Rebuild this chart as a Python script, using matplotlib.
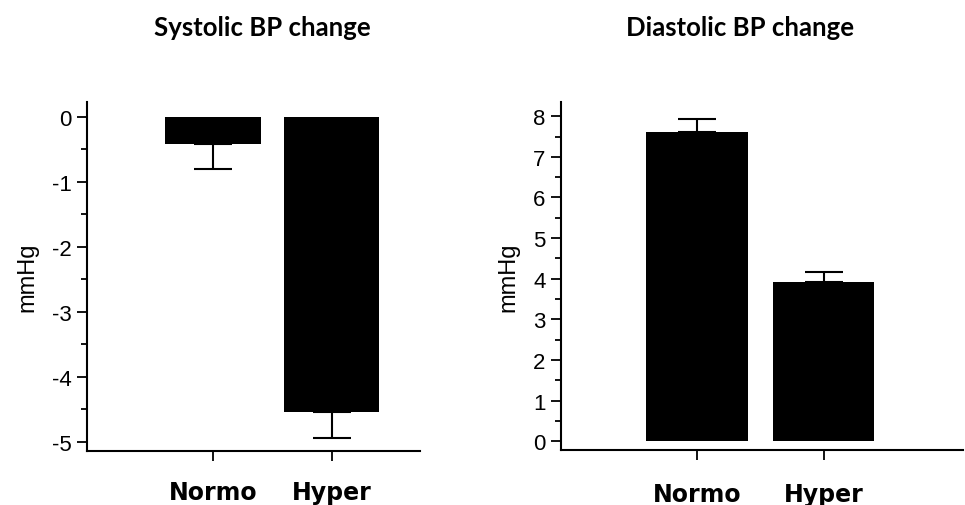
import matplotlib
matplotlib.use("Agg")
import matplotlib.pyplot as plt
from matplotlib.ticker import MultipleLocator

groups = ["Normo", "Hyper"]
systolic = [-0.42, -4.54]
systolic_err = [0.38, 0.40]
diastolic = [7.61, 3.92]
diastolic_err = [0.33, 0.24]

plt.rcParams.update({"font.family": ["Liberation Sans", "DejaVu Sans"],
                     "axes.unicode_minus": False})

fig = plt.figure(figsize=(9.65, 5.06), dpi=100)
ax1 = fig.add_axes([0.0902, 0.1067, 0.3448, 0.6897])
ax2 = fig.add_axes([0.5813, 0.1093, 0.4167, 0.6871])


def style(ax, pad):
    ax.spines[["top", "right"]].set_visible(False)
    for s in ("left", "bottom"):
        ax.spines[s].set_linewidth(1.5)
    ax.tick_params(axis="y", which="major", direction="out", length=7,
                   width=1.3, labelsize=16, pad=4)
    ax.tick_params(axis="y", which="minor", direction="out", length=4, width=1.3)
    ax.tick_params(axis="x", direction="out", length=7, width=1.3, pad=pad)
    ax.set_xticks(range(len(groups)))
    ax.set_xticklabels(groups, fontsize=17, fontweight="bold",
                       family=["DejaVu Sans"])
    ax.set_ylabel("mmHg", fontsize=17, labelpad=10)


x = range(len(groups))
# one-sided error bars, away from zero
ax1.bar(x, systolic, width=0.8, color="black")
ax1.errorbar(x, systolic, yerr=[systolic_err, [0, 0]], fmt="none",
             ecolor="black", elinewidth=1.5, capsize=14, capthick=1.5)
ax1.set_xlim(-1.06, 1.74)
ax1.set_ylim(-5.14, 0.23)
ax1.yaxis.set_major_locator(MultipleLocator(1))
ax1.yaxis.set_minor_locator(MultipleLocator(0.5))
style(ax1, 14)

ax2.bar(x, diastolic, width=0.8, color="black")
ax2.errorbar(x, diastolic, yerr=[[0, 0], diastolic_err], fmt="none",
             ecolor="black", elinewidth=1.5, capsize=14, capthick=1.5)
ax2.set_xlim(-1.073, 2.1)
ax2.set_ylim(-0.21, 8.35)
ax2.yaxis.set_major_locator(MultipleLocator(1))
ax2.yaxis.set_minor_locator(MultipleLocator(0.5))
style(ax2, 16)

fig.text(0.272, 0.944, "Systolic BP change", ha="center", va="center",
         fontsize=18.5, fontweight="bold", family=["Lato", "DejaVu Sans"])
fig.text(0.767, 0.944, "Diastolic BP change", ha="center", va="center",
         fontsize=18.5, fontweight="bold", family=["Lato", "DejaVu Sans"])

fig.savefig("out.png", dpi=100)
